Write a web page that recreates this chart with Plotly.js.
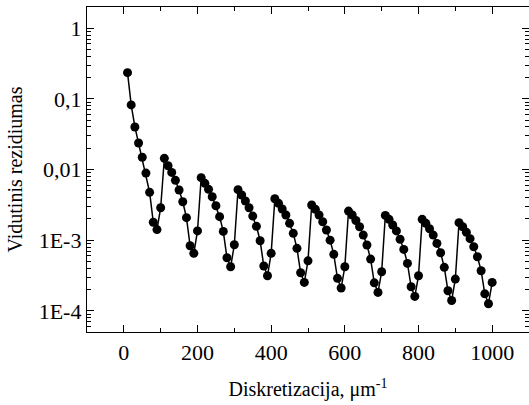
<!DOCTYPE html>
<html>
<head>
<meta charset="utf-8">
<script src="https://cdn.plot.ly/plotly-3.0.1.min.js"></script>
<style>html,body{margin:0;padding:0;background:#fff}#chart{width:529px;height:405px}</style>
</head>
<body>
<div id="chart"></div>
<script>
const discretization = [10,20,30,40,50,60,70,80,90,100,110,120,130,140,150,160,170,180,190,200,210,220,230,240,250,260,270,280,290,300,310,320,330,340,350,360,370,380,390,400,410,420,430,440,450,460,470,480,490,500,510,520,530,540,550,560,570,580,590,600,610,620,630,640,650,660,670,680,690,700,710,720,730,740,750,760,770,780,790,800,810,820,830,840,850,860,870,880,890,900,910,920,930,940,950,960,970,980,990,1000];
const residual = [
  0.235,0.082,0.040,0.0237,0.0149,0.0089,0.00475,0.00179,0.00141,0.00288,
  0.0144,0.0113,0.0091,0.00703,0.00513,0.0035,0.00208,0.000833,0.00065,0.00135,
  0.00766,0.00637,0.00524,0.00412,0.00307,0.00215,0.00133,0.000564,0.00042,0.00086,
  0.00518,0.00435,0.00358,0.00288,0.00219,0.00157,0.00098,0.00043,0.000313,0.00065,
  0.00386,0.00332,0.00276,0.00227,0.00173,0.00125,0.000766,0.000346,0.000252,0.00051,
  0.00314,0.00273,0.00227,0.00182,0.00139,0.001,0.00063,0.000288,0.00021,0.00042,
  0.00258,0.00227,0.0019,0.00155,0.00118,0.000853,0.00054,0.000249,0.000182,0.000357,
  0.00224,0.00197,0.00164,0.00135,0.00103,0.00074,0.000469,0.000219,0.00016,0.000313,
  0.00197,0.00173,0.00145,0.00118,0.0009,0.000664,0.000412,0.000192,0.00014,0.000281,
  0.00177,0.00155,0.00129,0.00105,0.000807,0.000582,0.000369,0.000174,0.000126,0.000252
];
const xTickVals = [0,200,400,600,800,1000];
const xMinorVals = [-100,100,300,500,700,900,1100];
const yTickVals = [1,0.1,0.01,0.001,0.0001];
const yTickText = ["1","0,1","0,01","1E-3","1E-4"];
const yMinorMantissas = [2,3,4,5,6,7,8,9];
const yMinorDecades = [0.00001,0.0001,0.001,0.01,0.1,1];

const yMinorVals = [];
yMinorDecades.forEach(d => yMinorMantissas.forEach(m => yMinorVals.push(m * d)));

const tickFont = {family: "Liberation Serif, Times New Roman, serif", size: 22, color: "#000"};
const titleFont = {family: "Liberation Serif, Times New Roman, serif", size: 20, color: "#000"};

Plotly.newPlot("chart", [{
  x: discretization,
  y: residual,
  mode: "lines+markers",
  line: {color: "#000", width: 1.5},
  marker: {color: "#000", size: 9, symbol: "circle"}
}], {
  width: 529, height: 405,
  margin: {l: 87, r: 0, t: 7, b: 73},
  paper_bgcolor: "#fff", plot_bgcolor: "#fff",
  showlegend: false,
  font: titleFont,
  xaxis: {
    range: [-100, 1100],
    tickmode: "array", tickvals: xTickVals,
    ticks: "inside", ticklen: 7, tickwidth: 1.2, tickcolor: "#000",
    minor: {tickmode: "array", tickvals: xMinorVals, ticks: "inside", ticklen: 4, tickwidth: 1, tickcolor: "#000", showgrid: false},
    showline: true, linecolor: "#000", linewidth: 1.2, mirror: "allticks",
    showgrid: false, zeroline: false,
    tickfont: tickFont,
    title: {text: "Diskretizacija, μm<sup>-1</sup>", font: titleFont, standoff: 18}
  },
  yaxis: {
    type: "log",
    range: [-4.3, 0.3],
    tickmode: "array", tickvals: yTickVals, ticktext: yTickText,
    ticks: "inside", ticklen: 7, tickwidth: 1.2, tickcolor: "#000",
    minor: {tickmode: "array", tickvals: yMinorVals, ticks: "inside", ticklen: 4, tickwidth: 1, tickcolor: "#000", showgrid: false},
    showline: true, linecolor: "#000", linewidth: 1.2, mirror: "allticks",
    showgrid: false, zeroline: false,
    tickfont: tickFont,
    title: {text: "Vidutinis rezidiumas", font: titleFont, standoff: 10}
  }
}, {staticPlot: true, displayModeBar: false});
</script>
</body>
</html>
